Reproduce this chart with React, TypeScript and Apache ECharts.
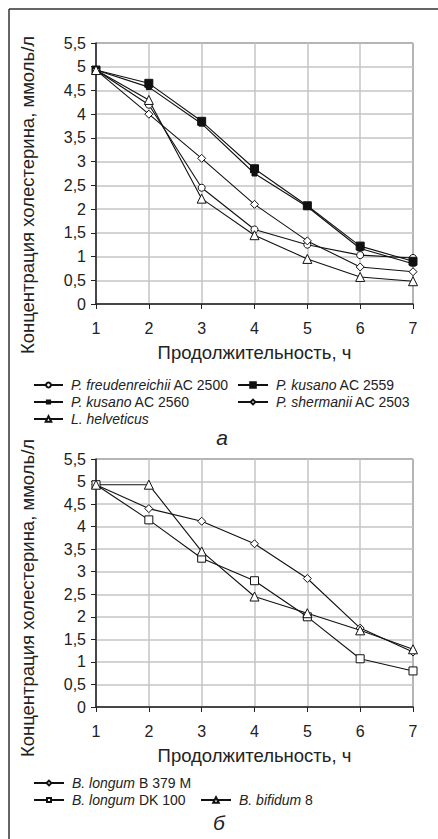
import React, { useEffect, useRef } from "react";
import * as echarts from "echarts";

const hours = [1, 2, 3, 4, 5, 6, 7];

// Chart a
const freud2500 = [4.93, 4.2, 2.45, 1.57, 1.25, 1.03, 0.97];
const kusano2559 = [4.93, 4.65, 3.85, 2.85, 2.07, 1.22, 0.9];
const kusano2560 = [4.93, 4.57, 3.8, 2.75, 2.05, 1.17, 0.85];
const sherm2503 = [4.93, 4.0, 3.07, 2.1, 1.33, 0.78, 0.68];
const helveticus = [4.93, 4.3, 2.22, 1.45, 0.95, 0.57, 0.48];

// Chart б
const longumB379 = [4.93, 4.4, 4.12, 3.62, 2.85, 1.75, 1.22];
const longumDK100 = [4.93, 4.15, 3.3, 2.8, 2.0, 1.07, 0.8];
const bifidum8 = [4.93, 4.93, 3.45, 2.45, 2.08, 1.7, 1.28];

const namesA = [
  ["P. freudenreichii", "AC 2500"],
  ["P. kusano", "AC 2559"],
  ["P. kusano", "AC 2560"],
  ["P. shermanii", "AC 2503"],
  ["L. helveticus", ""],
];
const namesB = [
  ["B. longum", "B 379 M"],
  ["B. longum", "DK 100"],
  ["B. bifidum", "8"],
];

const xTitle = "Продолжительность, ч";
const yTitle = "Концентрация холестерина, ммоль/л";

const FONT = "Liberation Sans, Arial, sans-serif";

function fullName(n: string[]) {
  return n[1] ? n[0] + " " + n[1] : n[0];
}

export default function App() {
  const ref = useRef<HTMLDivElement>(null);
  useEffect(() => {
    document.body.style.margin = "0";
    const chart = echarts.init(ref.current!, null, { renderer: "svg" });

    const mkX = (gridIndex: number) => ({
      type: "value",
      gridIndex,
      min: 1,
      max: 7,
      interval: 1,
      axisLine: { show: true, lineStyle: { color: "#222", width: 1.5 } },
      axisTick: { show: true, inside: false, length: 5, lineStyle: { color: "#222" } },
      axisLabel: { color: "#222", fontSize: 16, fontFamily: FONT, margin: 16 },
      splitLine: { show: true, lineStyle: { color: "#c4c4c4", width: 1.5 } },
      name: xTitle,
      nameLocation: "middle",
      nameGap: 39,
      nameTextStyle: { color: "#222", fontSize: 18.5, fontFamily: FONT },
    });
    const mkY = (gridIndex: number) => ({
      type: "value",
      gridIndex,
      min: 0,
      max: 5.5,
      interval: 0.5,
      axisLine: { show: true, lineStyle: { color: "#222", width: 1.5 } },
      axisTick: { show: true, inside: false, length: 5, lineStyle: { color: "#222" } },
      axisLabel: {
        color: "#222",
        fontSize: 16,
        fontFamily: FONT,
        margin: 10,
        formatter: (v: number) => String(v).replace(".", ","),
      },
      splitLine: { show: true, lineStyle: { color: "#c4c4c4", width: 1.5 } },
    });

    const pair = (arr: number[]) => hours.map((h, i) => [h, arr[i]]);
    const mkSeries = (
      name: string,
      data: number[],
      idx: number,
      symbol: string,
      size: number,
      filled: boolean
    ) => ({
      type: "line",
      name,
      xAxisIndex: idx,
      yAxisIndex: idx,
      data: pair(data),
      symbol,
      symbolSize: size,
      showAllSymbol: true,
      lineStyle: { color: "#111", width: 1.1 },
      itemStyle: { color: filled ? "#111" : "#fff", borderColor: "#111", borderWidth: 1 },
    });

    const nA = namesA.map(fullName);
    const nB = namesB.map(fullName);

    const series = [
      mkSeries(nA[0], freud2500, 0, "circle", 7, false),
      mkSeries(nA[1], kusano2559, 0, "rect", 8, true),
      mkSeries(nA[2], kusano2560, 0, "rect", 5, true),
      mkSeries(nA[3], sherm2503, 0, "diamond", 8, false),
      mkSeries(nA[4], helveticus, 0, "triangle", 9, false),
      mkSeries(nB[0], longumB379, 1, "diamond", 8, false),
      mkSeries(nB[1], longumDK100, 1, "rect", 8, false),
      mkSeries(nB[2], bifidum8, 1, "triangle", 9, false),
    ];

    const allNames = [...namesA, ...namesB];
    const fmt = (name: string) => {
      const n = allNames.find((p) => fullName(p) === name)!;
      return n[1] ? "{i|" + n[0] + "} " + n[1] : "{i|" + n[0] + "}";
    };
    const mkLegend = (name: string, left: number, cy: number, w: number, h: number) => ({
      data: [name],
      left,
      top: cy - 8,
      padding: 0,
      itemWidth: w,
      itemHeight: h,
      selectedMode: false,
      formatter: fmt,
      textStyle: {
        color: "#222",
        fontSize: 14,
        fontFamily: FONT,
        lineHeight: 16,
        padding: [0, 0, 0, 3],
        rich: { i: { fontStyle: "italic", fontSize: 14, fontFamily: FONT, color: "#222", lineHeight: 16 } },
      },
    });

    const legend = [
      mkLegend(nA[0], 33, 385, 29, 6),
      mkLegend(nA[1], 237, 385, 30, 7),
      mkLegend(nA[2], 33, 402, 29, 4),
      mkLegend(nA[3], 237, 402, 30, 6),
      mkLegend(nA[4], 33, 419, 29, 7),
      mkLegend(nB[0], 33, 783, 30, 6),
      mkLegend(nB[1], 33, 800, 30, 5),
      mkLegend(nB[2], 200, 800, 30, 7),
    ];

    chart.setOption({
      animation: false,
      backgroundColor: "#fff",
      grid: [
        { left: 96, top: 43, width: 317, height: 261, show: true, borderColor: "#111", borderWidth: 1, backgroundColor: "transparent" },
        { left: 96, top: 459, width: 317, height: 248, show: true, borderColor: "#111", borderWidth: 1, backgroundColor: "transparent" },
      ],
      xAxis: [mkX(0), mkX(1)],
      yAxis: [mkY(0), mkY(1)],
      legend,
      series,
      graphic: [
        { type: "line", shape: { x1: 9, y1: 9, x2: 438, y2: 9 }, style: { stroke: "#333", lineWidth: 1.5 } },
        { type: "line", shape: { x1: 9, y1: 9, x2: 9, y2: 839 }, style: { stroke: "#333", lineWidth: 1.5 } },
        {
          type: "text", x: 27, y: 195, rotation: Math.PI / 2,
          style: { text: yTitle, align: "center", verticalAlign: "middle", fontSize: 18.5, fontFamily: FONT, fill: "#222" },
        },
        {
          type: "text", x: 27, y: 598, rotation: Math.PI / 2,
          style: { text: yTitle, align: "center", verticalAlign: "middle", fontSize: 18.5, fontFamily: FONT, fill: "#222" },
        },
        {
          type: "text", x: 222, y: 437,
          style: { text: "a", align: "center", verticalAlign: "middle", fontSize: 21, fontStyle: "italic", fontFamily: FONT, fill: "#222" },
        },
        {
          type: "text", x: 219, y: 822,
          style: { text: "б", align: "center", verticalAlign: "middle", fontSize: 21, fontStyle: "italic", fontFamily: FONT, fill: "#222" },
        },
      ],
    });
    return () => chart.dispose();
  }, []);
  return <div ref={ref} style={{ width: 438, height: 839 }} />;
}
